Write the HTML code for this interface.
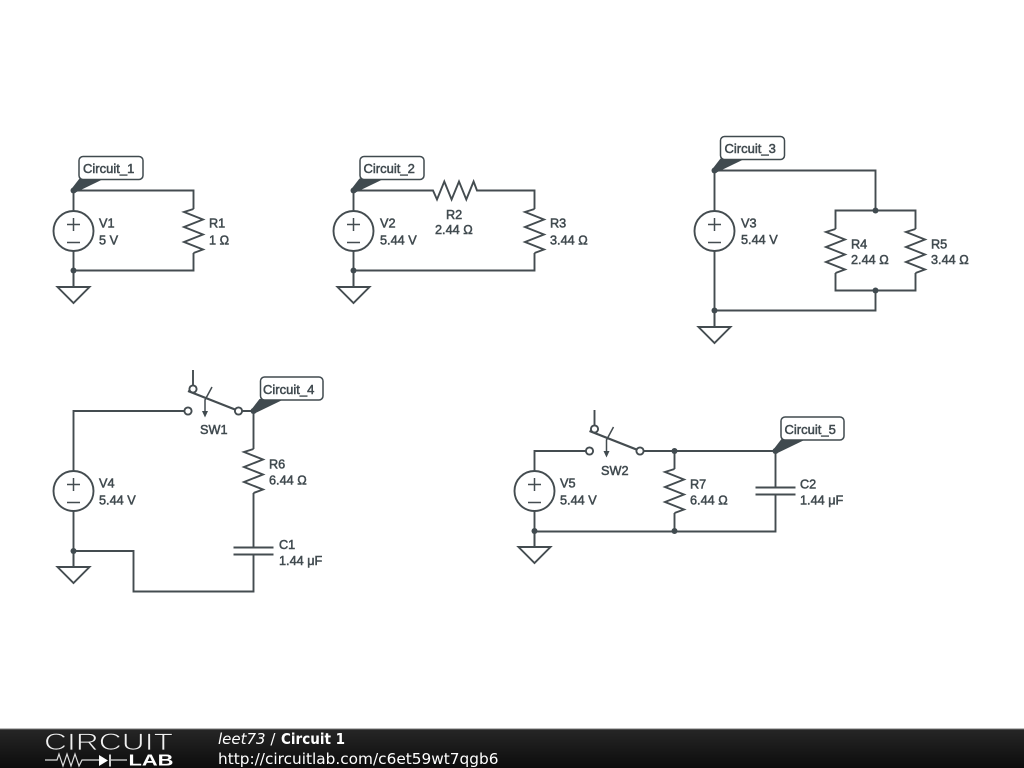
<!DOCTYPE html>
<html>
<head>
<meta charset="utf-8">
<style>
html,body{margin:0;padding:0;background:#fff;width:1024px;height:768px;overflow:hidden}
svg{display:block}
.w{fill:none;stroke:#444c50;stroke-width:1.9}
.t{font-family:"Liberation Sans",Arial,sans-serif;font-size:13px;fill:#404a4f;stroke:#404a4f;stroke-width:.5}
.n{font-family:"Liberation Sans",Arial,sans-serif;font-size:12.7px;fill:#404a4f;stroke:#404a4f;stroke-width:.5}
.f{font-family:"DejaVu Sans",sans-serif;font-size:15px;fill:#fff}
</style>
</head>
<body>
<svg width="1024" height="768" viewBox="0 0 1024 768" xmlns="http://www.w3.org/2000/svg">
<defs>
<linearGradient id="bar" x1="0" y1="0" x2="0" y2="1"><stop offset="0" stop-color="#262626"/><stop offset="1" stop-color="#0c0c0c"/></linearGradient>
<g id="src"><circle cx="0" cy="0" r="20" fill="#fff" stroke="#444c50" stroke-width="1.900"/><path class="w" style="stroke-width:1.500" d="M-6.500-6.500H6.500M0-13V0M-6.500 11.500H6.500"/></g>
<g id="gnd"><path class="w" d="M0-16V0M-16 0H16L0 16Z"/></g>
<g id="resv"><path class="w" d="M0-22L-9.500-19L9.500-11.500L-9.500-4L9.500 3.500L-9.500 11L9.500 18.500L0 22"/></g>
<g id="dot"><circle r="3" fill="#404a4f"/></g>
<g id="cap"><path class="w" d="M-20-3.500H20M-20 3.500H20"/></g>
<g id="wedge"><path d="M-2.500-1L6-12H31L2 2Z" fill="#404a4f"/></g>
<g id="sw"><path class="w" d="M5 -41V-26"/><circle cx="5" cy="-22" r="3.600" fill="#fff" stroke="#444c50" stroke-width="1.900"/><circle cx="0" cy="0" r="3.600" fill="#fff" stroke="#444c50" stroke-width="1.900"/><circle cx="50.500" cy="0" r="3.600" fill="#fff" stroke="#444c50" stroke-width="1.900"/><path class="w" style="stroke-width:2.200" d="M0-20L47-1.500"/><path d="M24-24L17-11V1" fill="none" stroke="#444c50" stroke-width="1.500"/><path d="M14 0H20L17 6.500Z" fill="#404a4f"/></g>
</defs>

<!-- Circuit 1 -->
<path class="w" d="M73.500 190.500H193.500V209M193.500 253V270.500H73.500V287M73.500 190.500V211M73.500 251V270.500"/>
<use href="#src" x="73.500" y="231"/><use href="#resv" x="193.500" y="231"/><use href="#gnd" x="73.500" y="287"/><use href="#dot" x="73.500" y="270.500"/><use href="#dot" x="73.500" y="190.500"/>
<text class="n" x="99" y="227.700">V1</text><text class="n" x="99" y="244.500">5 V</text>
<text class="n" x="209" y="227.700">R1</text><text class="n" x="209" y="244.500">1 Ω</text>
<use href="#wedge" x="73.500" y="190.500"/><rect x="79" y="156.500" width="64" height="23" rx="4" fill="#fff" stroke="#404a4f" stroke-width="1.500"/><text class="t" x="83" y="173">Circuit_1</text>

<!-- Circuit 2 -->
<path class="w" d="M353.500 211V190.500H433L437 199.500L444.300 181.500L451.600 199.500L459 181.500L466.300 199.500L473.600 181.500L477 190.500H534.500V209M534.500 253V270.500H353.500M353.500 251V287"/>
<use href="#src" x="353.500" y="231"/><use href="#resv" x="534.500" y="231"/><use href="#gnd" x="353.500" y="287"/><use href="#dot" x="353.500" y="270.500"/><use href="#dot" x="353.500" y="190.500"/>
<text class="n" x="380" y="227.700">V2</text><text class="n" x="380" y="244.500">5.44 V</text>
<text class="n" x="446" y="219">R2</text><text class="n" x="435" y="234">2.44 Ω</text>
<text class="n" x="550" y="227.700">R3</text><text class="n" x="550" y="244.500">3.44 Ω</text>
<use href="#wedge" x="353.500" y="190.500"/><rect x="360" y="156.500" width="64" height="23" rx="4" fill="#fff" stroke="#404a4f" stroke-width="1.500"/><text class="t" x="363.500" y="173">Circuit_2</text>

<!-- Circuit 3 -->
<path class="w" d="M714.500 211V170.500H875.500V210.500M835.500 229V210.500H915.500V229M835.500 273V290.500H915.500V273M875.500 290.500V310.500H714.500M714.500 251V327"/>
<use href="#src" x="714.500" y="231"/><use href="#resv" x="835.500" y="251"/><use href="#resv" x="915.500" y="251"/><use href="#gnd" x="714.500" y="327"/><use href="#dot" x="714.500" y="310.500"/><use href="#dot" x="714.500" y="170.500"/><use href="#dot" x="875.500" y="210.500"/><use href="#dot" x="875.500" y="290.500"/>
<text class="n" x="741" y="227.700">V3</text><text class="n" x="741" y="244">5.44 V</text>
<text class="n" x="851" y="248.500">R4</text><text class="n" x="851" y="264">2.44 Ω</text>
<text class="n" x="931" y="248.500">R5</text><text class="n" x="931" y="264">3.44 Ω</text>
<use href="#wedge" x="714.500" y="170.500"/><rect x="720.500" y="136.500" width="64" height="23" rx="4" fill="#fff" stroke="#404a4f" stroke-width="1.500"/><text class="t" x="724.500" y="153">Circuit_3</text>

<!-- Circuit 4 -->
<path class="w" d="M73.500 471V411H184.500M242.500 411H253.500V449M253.500 493V547.500M253.500 554.500V591.500H133.500V551H73.500M73.500 511V567"/>
<use href="#src" x="73.500" y="491"/><use href="#resv" x="253.500" y="471"/><use href="#gnd" x="73.500" y="567"/><use href="#cap" x="253.500" y="551"/><use href="#dot" x="73.500" y="551"/><use href="#dot" x="253.500" y="411"/><use href="#sw" x="188" y="411"/>
<text class="n" x="99" y="487.700">V4</text><text class="n" x="99" y="504.500">5.44 V</text>
<text class="n" x="200" y="434">SW1</text>
<text class="n" x="269" y="468.700">R6</text><text class="n" x="269" y="484.500">6.44 Ω</text>
<text class="n" x="279" y="549">C1</text><text class="n" x="279" y="565">1.44 μF</text>
<use href="#wedge" x="253.500" y="411"/><rect x="260.500" y="377" width="62.500" height="23" rx="4" fill="#fff" stroke="#404a4f" stroke-width="1.500"/><text class="t" x="263" y="394">Circuit_4</text>

<!-- Circuit 5 -->
<path class="w" d="M534.500 471V451H586M643.500 451H775.500V487.500M775.500 494.500V531.500H534.500M534.500 511V547M674.500 451V469M674.500 513V531.500"/>
<use href="#src" x="534.500" y="491"/><use href="#resv" x="674.500" y="491"/><use href="#cap" x="775.500" y="491"/><use href="#gnd" x="534.500" y="547"/><use href="#dot" x="534.500" y="531"/><use href="#dot" x="674.500" y="451"/><use href="#dot" x="674.500" y="531"/><use href="#dot" x="775.500" y="451"/><use href="#sw" x="589.500" y="451"/>
<text class="n" x="560" y="487.700">V5</text><text class="n" x="560" y="504.500">5.44 V</text>
<text class="n" x="601" y="475">SW2</text>
<text class="n" x="690" y="488.700">R7</text><text class="n" x="690" y="504.500">6.44 Ω</text>
<text class="n" x="800" y="488.700">C2</text><text class="n" x="800" y="504.500">1.44 μF</text>
<use href="#wedge" x="775.500" y="451"/><rect x="781" y="417" width="63" height="23" rx="4" fill="#fff" stroke="#404a4f" stroke-width="1.500"/><text class="t" x="784.500" y="434">Circuit_5</text>

<!-- Footer -->
<rect x="0" y="729" width="1024" height="39" fill="url(#bar)"/>
<rect x="0" y="728.500" width="1024" height="1" fill="#777"/>
<text x="44" y="750" font-family="'Liberation Sans',sans-serif" font-size="24" fill="#f0f0f0" stroke="#1c1c1c" stroke-width=".8" textLength="129" lengthAdjust="spacingAndGlyphs">CIRCUIT</text>
<path d="M45 760H57L59 754L63 766L67 754L71 766L75 754L79 766L82 760H99M111 760H127" fill="none" stroke="#ddd" stroke-width="1.200"/>
<path d="M99 755V766L108 760.500Z" fill="#fff"/><path d="M110 754.500V766.500" stroke="#fff" stroke-width="1.600"/>
<text x="128.500" y="765.500" font-family="'Liberation Sans',sans-serif" font-weight="bold" font-size="16" fill="#fff" textLength="45" lengthAdjust="spacingAndGlyphs">LAB</text>
<text class="f" x="218" y="744"><tspan font-style="italic">leet73</tspan> /</text>
<text class="f" x="281" y="744" font-weight="bold" textLength="64" lengthAdjust="spacingAndGlyphs">Circuit 1</text>
<text class="f" x="218" y="764" textLength="280.500" lengthAdjust="spacingAndGlyphs">http://circuitlab.com/c6et59wt7qgb6</text>
</svg>
</body>
</html>
